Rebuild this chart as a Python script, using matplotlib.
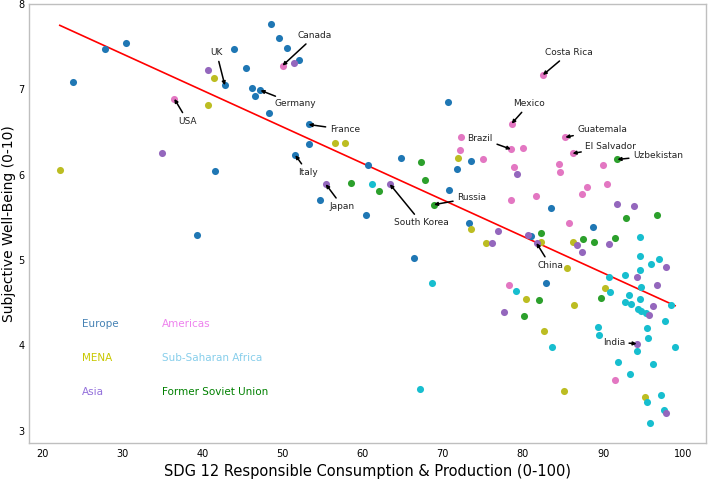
import numpy as np
import matplotlib
matplotlib.use("Agg")
import matplotlib.pyplot as plt

# SDG 12 score (x) and subjective well-being (y), by region
europe_x = [23.9, 27.9, 30.5, 42.8, 44.0, 45.5, 46.2, 46.6, 47.25, 48.25, 48.6, 49.6, 50.5,
            52.0, 53.25, 53.25, 51.6, 41.6, 54.7, 60.7, 60.4, 39.3, 70.6, 64.8, 73.5, 71.75,
            70.8, 83.5, 73.3, 81.0, 66.4, 88.75, 82.9]
europe_y = [7.09, 7.48, 7.55, 7.05, 7.48, 7.25, 7.02, 6.92, 6.99, 6.72, 7.77, 7.60, 7.49,
            7.34, 6.59, 6.36, 6.23, 6.04, 5.70, 6.12, 5.53, 5.29, 6.85, 6.20, 6.16, 6.07,
            5.82, 5.61, 5.43, 5.28, 5.02, 5.39, 4.73]

americas_x = [36.5, 50.0, 82.5, 78.6, 72.25, 72.2, 78.5, 80.0, 75.0, 78.9, 78.5, 81.6, 85.3,
              86.2, 84.5, 84.6, 90.0, 88.0, 90.5, 87.4, 85.7, 78.3, 91.5]
americas_y = [6.89, 7.28, 7.17, 6.60, 6.44, 6.29, 6.30, 6.32, 6.19, 6.09, 5.70, 5.75, 6.44,
              6.25, 6.13, 6.03, 6.11, 5.86, 5.89, 5.78, 5.43, 4.71, 3.60]

mena_x = [22.2, 40.7, 41.4, 56.6, 57.8, 71.9, 73.5, 75.4, 82.2, 86.25, 85.5, 90.3, 80.4,
          82.6, 86.4, 85.1, 95.2]
mena_y = [6.06, 6.82, 7.14, 6.37, 6.37, 6.20, 5.37, 5.20, 5.21, 5.21, 4.91, 4.67, 4.55,
          4.17, 4.47, 3.47, 3.39]

asia_x = [34.9, 40.7, 51.4, 55.4, 63.4, 79.25, 76.9, 80.6, 76.2, 81.7, 91.8, 93.9, 86.8,
          87.4, 90.7, 97.9, 94.25, 96.8, 96.25, 95.8, 94.2, 77.7, 97.9]
asia_y = [6.26, 7.23, 7.31, 5.89, 5.89, 6.01, 5.34, 5.29, 5.20, 5.20, 5.66, 5.63, 5.18,
          5.09, 5.19, 4.92, 4.80, 4.71, 4.46, 4.36, 4.02, 4.39, 3.21]

ssa_x = [61.2, 94.6, 94.6, 97.0, 96.0, 94.6, 90.8, 92.8, 94.75, 90.9, 93.3, 94.6, 92.8,
         93.5, 98.5, 94.4, 94.7, 95.4, 97.7, 89.4, 95.5, 89.5, 95.6, 99.0, 94.3, 91.9,
         96.3, 93.4, 95.5, 97.25, 97.6, 95.9, 83.6, 68.6, 79.2, 67.2]
ssa_y = [5.89, 5.27, 5.05, 5.01, 4.95, 4.89, 4.80, 4.82, 4.68, 4.63, 4.59, 4.54, 4.51,
         4.49, 4.47, 4.43, 4.40, 4.38, 4.29, 4.22, 4.20, 4.12, 4.09, 3.98, 3.94, 3.81,
         3.78, 3.67, 3.34, 3.42, 3.24, 3.09, 3.98, 4.73, 4.64, 3.49]

fsu_x = [58.5, 62.1, 67.25, 67.8, 68.9, 82.3, 91.8, 96.7, 92.9, 87.5, 88.9, 91.5, 89.8,
         82.0, 80.1]
fsu_y = [5.90, 5.81, 6.15, 5.94, 5.65, 5.32, 6.18, 5.53, 5.49, 5.25, 5.21, 5.26, 4.56,
         4.53, 4.34]

# labelled countries: name, point, text position
label_names = ["Canada", "UK", "Germany", "USA", "France", "Italy", "Japan", "Costa Rica",
               "Mexico", "Brazil", "Guatemala", "El Salvador", "Uzbekistan", "Russia",
               "South Korea", "China", "India"]
label_pts = [(50.0, 7.28), (42.8, 7.05), (47.25, 6.99), (36.5, 6.89), (53.25, 6.59),
             (51.6, 6.23), (55.4, 5.89), (82.5, 7.17), (78.6, 6.60), (78.5, 6.30),
             (85.3, 6.44), (86.2, 6.25), (91.8, 6.18), (68.9, 5.65), (63.4, 5.89),
             (81.7, 5.20), (94.2, 4.02)]
label_txt = [(51.9, 7.63), (41.0, 7.43), (49.0, 6.83), (37.0, 6.63), (55.9, 6.53),
             (51.9, 6.03), (55.9, 5.63), (82.8, 7.43), (78.8, 6.83), (73.1, 6.43),
             (86.8, 6.53), (87.8, 6.33), (93.75, 6.23), (71.8, 5.73), (63.9, 5.44),
             (81.8, 4.94), (89.96, 4.04)]

regions = [
    ("Europe", europe_x, europe_y, "tab:blue", "steelblue"),
    ("Americas", americas_x, americas_y, "tab:pink", "violet"),
    ("MENA", mena_x, mena_y, "tab:olive", "#c8c800"),
    ("Sub-Saharan Africa", ssa_x, ssa_y, "tab:cyan", "skyblue"),
    ("Asia", asia_x, asia_y, "tab:purple", "mediumpurple"),
    ("Former Soviet Union", fsu_x, fsu_y, "tab:green", "green"),
]

fig, ax = plt.subplots(figsize=(7.08, 4.8), dpi=100)
fig.subplots_adjust(left=0.041, right=0.997, top=0.992, bottom=0.077)

for name, xs, ys, c, tc in regions:
    ax.scatter(xs, ys, s=26, color=c, linewidths=0, zorder=3)

# OLS fit line over the data range
all_x = np.concatenate([r[1] for r in regions])
all_y = np.concatenate([r[2] for r in regions])
slope, icpt = np.polyfit(all_x, all_y, 1)
xx = np.array([all_x.min(), all_x.max()])
ax.plot(xx, slope * xx + icpt, color="red", lw=1.2, zorder=2)

for name, pt, tp in zip(label_names, label_pts, label_txt):
    ax.annotate(name, xy=pt, xytext=tp, fontsize=6.5, ha="left", va="center",
                color="#222222",
                arrowprops=dict(arrowstyle="-|>", color="black", lw=1.1,
                                mutation_scale=5, shrinkA=1, shrinkB=0))

# region "legend" as coloured text
leg_pos = [(25, 4.25), (35, 4.25), (25, 3.85), (35, 3.85), (25, 3.45), (35, 3.45)]
for (name, xs, ys, c, tc), (lx, ly) in zip(regions, leg_pos):
    ax.text(lx, ly, name, color=tc, fontsize=7.5, ha="left", va="center")

ax.set_xlabel("SDG 12 Responsible Consumption & Production (0-100)", fontsize=10.5)
ax.set_ylabel("Subjective Well-Being (0-10)", fontsize=10, labelpad=2)
ax.set_xticks(range(20, 101, 10))
ax.set_yticks(range(3, 9))
ax.tick_params(length=0, labelsize=7, pad=4)
ax.tick_params(axis="y", pad=3)
for sp in ax.spines.values():
    sp.set_color("#bfbfbf")
    sp.set_linewidth(1.0)

fig.savefig("out.png", dpi=100)
